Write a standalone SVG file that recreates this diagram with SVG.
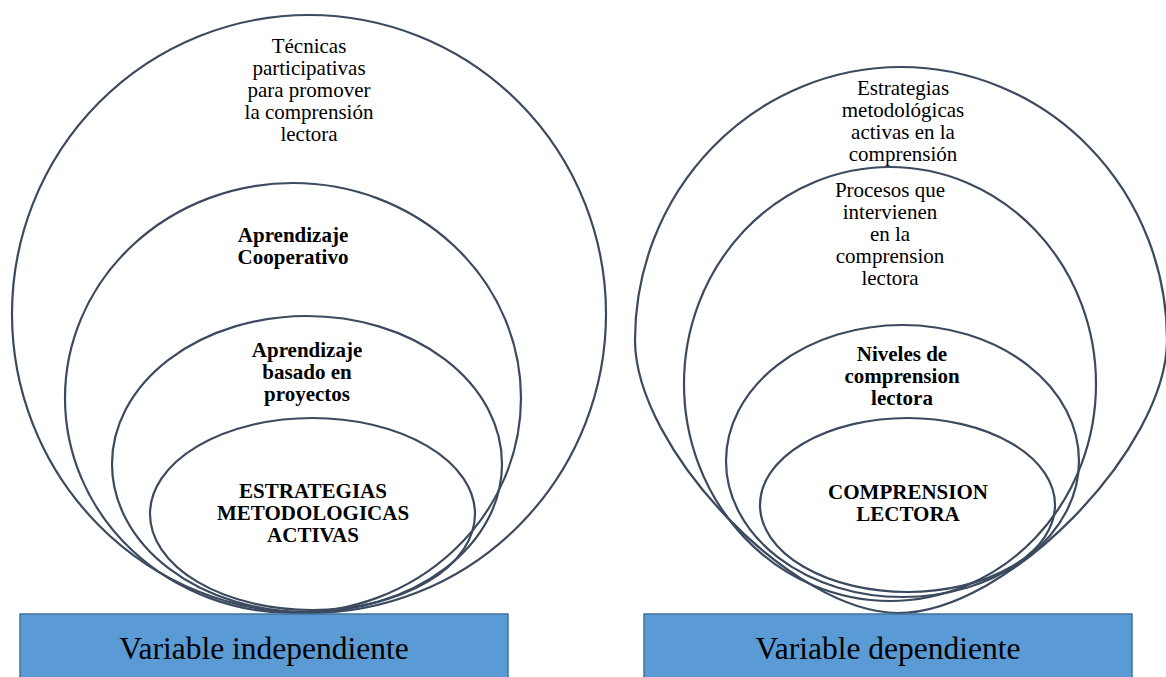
<svg xmlns="http://www.w3.org/2000/svg" width="1166" height="677" viewBox="0 0 1166 677">
<style>
.ring{fill:none;stroke:#3B4A5E;stroke-width:2.2}
.box{fill:#5B9BD5;stroke:#41719C;stroke-width:1.5}
.t{font-family:"Liberation Serif","Times New Roman",serif;font-size:21px;fill:#000;text-anchor:middle}
.b{font-weight:bold}
.v{font-family:"Liberation Serif","Times New Roman",serif;font-size:31.5px;fill:#000;text-anchor:middle}
</style>
<rect width="1166" height="677" fill="#fff"/>
<g id="left-outer">
<ellipse class="ring" cx="309" cy="314" rx="297" ry="299"/>
<text class="t" x="309" y="53">Técnicas</text>
<text class="t" x="309" y="75">participativas</text>
<text class="t" x="309" y="97">para promover</text>
<text class="t" x="309" y="119">la comprensión</text>
<text class="t" x="309" y="141">lectora</text>
</g>
<g id="left-2">
<ellipse class="ring" cx="293" cy="398" rx="228" ry="215"/>
<text class="t b" x="293" y="242">Aprendizaje</text>
<text class="t b" x="293" y="264">Cooperativo</text>
</g>
<g id="left-3">
<ellipse class="ring" cx="307" cy="464" rx="195" ry="148"/>
<text class="t b" x="307" y="357">Aprendizaje</text>
<text class="t b" x="307" y="379">basado en</text>
<text class="t b" x="307" y="401">proyectos</text>
</g>
<g id="left-4">
<ellipse class="ring" cx="312.5" cy="514" rx="162.5" ry="96"/>
<text class="t b" x="313" y="498">ESTRATEGIAS</text>
<text class="t b" x="313" y="520">METODOLOGICAS</text>
<text class="t b" x="313" y="542">ACTIVAS</text>
</g>
<g id="left-label">
<rect class="box" x="20" y="614" width="488" height="70"/>
<text class="v" x="264" y="659">Variable independiente</text>
</g>
<g id="right-outer">
<path class="ring" d="M635 340 A266 273 0 0 1 1167 340 C1167 449 1007 613 898 613 C793 613 635 449 635 340 Z"/>
<text class="t" x="903" y="95">Estrategias</text>
<text class="t" x="903" y="117">metodológicas</text>
<text class="t" x="903" y="139">activas en la</text>
<text class="t" x="903" y="161">comprensión</text>
</g>
<g id="right-2">
<ellipse class="ring" cx="890" cy="384" rx="206" ry="217"/>
<text class="t" x="890" y="197">Procesos que</text>
<text class="t" x="890" y="219">intervienen</text>
<text class="t" x="890" y="241">en la</text>
<text class="t" x="890" y="263">comprension</text>
<text class="t" x="890" y="285">lectora</text>
</g>
<g id="right-3">
<ellipse class="ring" cx="902.5" cy="461" rx="176.5" ry="136"/>
<text class="t b" x="902" y="361">Niveles de</text>
<text class="t b" x="902" y="383">comprension</text>
<text class="t b" x="902" y="405">lectora</text>
</g>
<g id="right-4">
<ellipse class="ring" cx="907.5" cy="505" rx="147.5" ry="87"/>
<text class="t b" x="908" y="499">COMPRENSION</text>
<text class="t b" x="908" y="521">LECTORA</text>
</g>
<g id="right-label">
<rect class="box" x="644" y="614" width="488" height="70"/>
<text class="v" x="888" y="659">Variable dependiente</text>
</g>
<g id="connectors"/>
</svg>
